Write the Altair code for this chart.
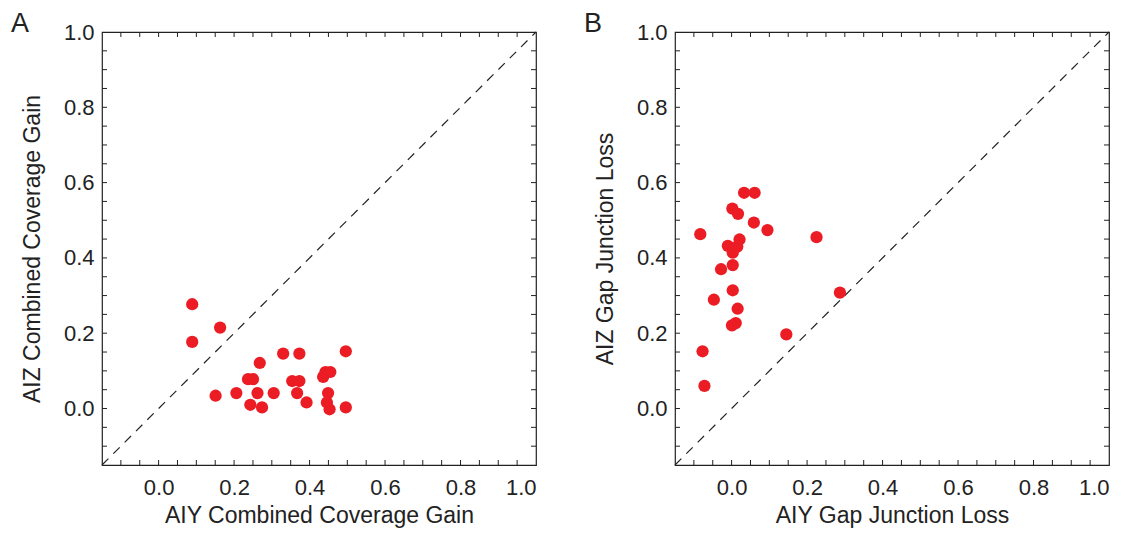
import altair as alt
import pandas as pd

# Panel A data
a_x = [0.089, 0.089, 0.163, 0.151, 0.206, 0.237, 0.250, 0.243, 0.262, 0.268, 0.274, 0.305, 0.330,
       0.354, 0.373, 0.373, 0.367, 0.392, 0.436, 0.442, 0.455, 0.449, 0.446, 0.453, 0.496, 0.496]
a_y = [0.277, 0.177, 0.215, 0.034, 0.041, 0.078, 0.078, 0.010, 0.041, 0.121, 0.003, 0.041, 0.146,
       0.073, 0.146, 0.073, 0.041, 0.016, 0.084, 0.097, 0.097, 0.041, 0.016, -0.002, 0.152, 0.003]

# Panel B data
b_x = [0.033, 0.061, 0.002, 0.017, 0.059, 0.095, -0.083, 0.225, 0.021, -0.010, 0.015, 0.003,
       0.003, -0.028, 0.003, -0.047, 0.287, 0.016, 0.011, 0.001, 0.145, -0.077, -0.072]
b_y = [0.573, 0.573, 0.531, 0.517, 0.494, 0.474, 0.463, 0.455, 0.449, 0.432, 0.430, 0.414,
       0.381, 0.370, 0.314, 0.289, 0.308, 0.265, 0.227, 0.221, 0.197, 0.152, 0.060]

tick_labels = [0.0, 0.2, 0.4, 0.6, 0.8, 1.0]
minor_ticks = [-0.1, -0.05, 0.0, 0.05, 0.1, 0.15, 0.2, 0.25, 0.3, 0.35, 0.4, 0.45, 0.5,
               0.55, 0.6, 0.65, 0.7, 0.75, 0.8, 0.85, 0.9, 0.95]
diag = [-0.15, 1.0]

W, H = 434, 433
TL = 5
FONT = "Liberation Sans"
RED = "#ec1c24"
INK = "#222222"

scale = alt.Scale(domain=[-0.15, 1.0], nice=False, zero=False)


def panel(xs, ys, xtitle, ytitle, letter):
    df = pd.DataFrame({"x": xs, "y": ys})
    ax = dict(values=tick_labels, format=".1f", ticks=False, domain=False, grid=False,
              labelFont=FONT, labelFontSize=22, labelColor=INK,
              titleFont=FONT, titleFontSize=23, titleFontWeight="normal", titleColor=INK)
    xaxis = alt.Axis(labelPadding=12, titlePadding=6, title=xtitle, **ax)
    yaxis = alt.Axis(labelPadding=8, titlePadding=19, title=ytitle, **ax)

    def X(f):
        return alt.X(f, scale=scale, axis=xaxis, title=xtitle)

    def Y(f):
        return alt.Y(f, scale=scale, axis=yaxis, title=ytitle)

    pts = alt.Chart(df).mark_circle(size=150, color=RED, opacity=1).encode(
        x=X("x:Q"), y=Y("y:Q"))
    ddf = pd.DataFrame({"d": diag})
    line = alt.Chart(ddf).mark_line(color=INK, strokeWidth=1.2, strokeDash=[9, 7]).encode(
        x=X("d:Q"), y=Y("d:Q"))
    tdf = pd.DataFrame({"t": minor_ticks})
    tk = alt.Chart(tdf).mark_rule(color=INK, strokeWidth=1)
    left = tk.encode(y=Y("t:Q"), x=alt.value(0), x2=alt.value(TL))
    right = tk.encode(y=Y("t:Q"), x=alt.value(W - TL), x2=alt.value(W))
    bottom = tk.encode(x=X("t:Q"), y=alt.value(H - TL), y2=alt.value(H))
    top = tk.encode(x=X("t:Q"), y=alt.value(0), y2=alt.value(TL))
    return alt.layer(line, left, right, bottom, top, pts).properties(
        width=W, height=H,
        title=alt.TitleParams(text=letter, anchor="start", frame="group", dx=-91,
                              font=FONT, fontSize=27, fontWeight="normal", color=INK, offset=-17),
    )


pa = panel(a_x, a_y, "AIY Combined Coverage Gain", "AIZ Combined Coverage Gain", "A")
pb = panel(b_x, b_y, "AIY Gap Junction Loss", "AIZ Gap Junction Loss", "B")

chart = alt.hconcat(pa, pb, spacing=44).properties(
    padding={"left": 10, "top": 9, "right": 5, "bottom": 5}, background="white"
).configure_view(stroke=INK, strokeWidth=1.2)

chart.save("out.html", embed_options={"renderer": "svg", "actions": False})
